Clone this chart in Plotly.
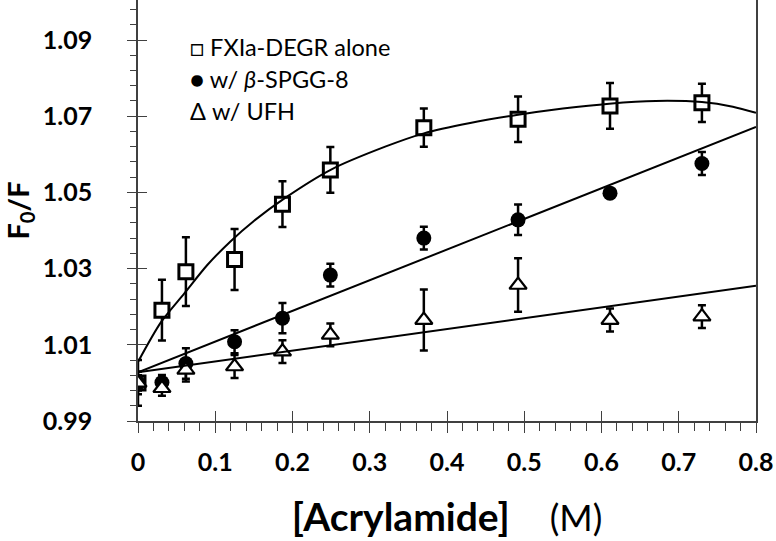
import plotly.graph_objects as go

# ---- data ----
conc = [0, 0.031, 0.062, 0.125, 0.187, 0.249, 0.370, 0.492, 0.611, 0.730]

alone_y = [1.000, 1.0191, 1.0292, 1.0324, 1.0469, 1.0559, 1.0670, 1.0692, 1.0727, 1.0735]
alone_err = [0.006, 0.008, 0.009, 0.008, 0.006, 0.006, 0.005, 0.006, 0.006, 0.005]

spgg_y = [1.000, 1.0001, 1.0051, 1.0108, 1.0170, 1.0283, 1.0380, 1.0428, 1.0498, 1.0576]
spgg_err = [0.002, 0.002, 0.004, 0.003, 0.004, 0.003, 0.003, 0.004, 0.001, 0.003]

ufh_y = [1.000, 0.9986, 1.0034, 1.0043, 1.0082, 1.0126, 1.0165, 1.0257, 1.0165, 1.0174]
ufh_err = [0.003, 0.002, 0.003, 0.003, 0.003, 0.003, 0.008, 0.007, 0.003, 0.003]

# fitted curves
alone_fit_x = [0, 0.03, 0.06, 0.09, 0.12, 0.15, 0.19, 0.25, 0.32, 0.37, 0.43, 0.49, 0.55, 0.61, 0.67, 0.73, 0.77, 0.8]
alone_fit_y = [1.0055, 1.0160, 1.0235, 1.0310, 1.0372, 1.0425, 1.0485, 1.0560, 1.0620, 1.0655, 1.0682, 1.0703, 1.0720, 1.0733, 1.0740, 1.0737, 1.0725, 1.0709]
line_x = [0, 0.8]
spgg_fit_y = [1.0028, 1.0672]
ufh_fit_y = [1.0028, 1.0255]

x_ticks = [0, 0.1, 0.2, 0.3, 0.4, 0.5, 0.6, 0.7, 0.8]
x_ticklabels = ["0", "0.1", "0.2", "0.3", "0.4", "0.5", "0.6", "0.7", "0.8"]
y_ticks = [0.99, 1.01, 1.03, 1.05, 1.07, 1.09]
y_ticklabels = ["0.99", "1.01", "1.03", "1.05", "1.07", "1.09"]

FONT = "Lato"
BLACK = "black"
AX = "#404040"

fig = go.Figure()

def err(arr):
    return dict(type="data", array=arr, visible=True, color=BLACK, thickness=2.5, width=4)

fig.add_trace(go.Scatter(x=conc, y=alone_y, mode="markers", error_y=err(alone_err),
                         marker=dict(symbol="square", size=14, color="white",
                                     line=dict(color=BLACK, width=3)),
                         showlegend=False))
fig.add_trace(go.Scatter(x=conc, y=spgg_y, mode="markers", error_y=err(spgg_err),
                         marker=dict(symbol="circle", size=15, color=BLACK,
                                     line=dict(color=BLACK, width=0)),
                         showlegend=False))
fig.add_trace(go.Scatter(x=conc, y=ufh_y, mode="markers", error_y=err(ufh_err),
                         marker=dict(symbol="triangle-up", size=15, color="white",
                                     line=dict(color=BLACK, width=2.2)),
                         showlegend=False))

fig.add_trace(go.Scatter(x=alone_fit_x, y=alone_fit_y, mode="lines",
                         line=dict(color=BLACK, width=2, shape="spline", smoothing=0.8),
                         showlegend=False))
fig.add_trace(go.Scatter(x=line_x, y=spgg_fit_y, mode="lines",
                         line=dict(color=BLACK, width=2), showlegend=False))
fig.add_trace(go.Scatter(x=line_x, y=ufh_fit_y, mode="lines",
                         line=dict(color=BLACK, width=2), showlegend=False))

# invisible trace to activate overlay axes used for the inner half of crossing ticks
fig.add_trace(go.Scatter(x=[0], y=[1.0], xaxis="x2", yaxis="y2", mode="markers",
                         marker=dict(opacity=0), showlegend=False, hoverinfo="skip"))

XR = [0, 0.8]
YR = [0.99, 1.1005]
NB = "\u00a0"

fig.update_layout(
    width=776, height=541,
    margin=dict(l=138, r=20, t=0, b=120, autoexpand=False),
    paper_bgcolor="white", plot_bgcolor="white",
    font=dict(family=FONT, color=BLACK),
    xaxis=dict(range=XR, tickvals=x_ticks, ticktext=x_ticklabels, automargin=False,
               showgrid=False, zeroline=False,
               showline=True, linecolor=AX, linewidth=1.5, mirror=True,
               ticks="outside", ticklen=10, tickwidth=1.2, tickcolor=AX,
               minor=dict(dtick=0.02, tick0=0, ticks="outside", ticklen=8,
                          tickwidth=1.2, tickcolor=AX, showgrid=False),
               tickfont=dict(family=FONT, size=25, color=BLACK, weight="bold"),
               ticklabelstandoff=8,
               title=dict(text="<b>[Acrylamide]</b>" + NB * 4
                               + "<span style='font-size:36px'>(M)</span>",
                          font=dict(family=FONT, size=39, color=BLACK),
                          standoff=29)),
    yaxis=dict(range=YR, tickvals=y_ticks, ticktext=y_ticklabels, automargin=False,
               showgrid=False, zeroline=False,
               showline=True, linecolor=AX, linewidth=1.5, mirror=True,
               ticks="outside", ticklen=9, tickwidth=1.2, tickcolor=AX,
               minor=dict(dtick=0.004, tick0=0.99, ticks="outside", ticklen=6,
                          tickwidth=1.2, tickcolor=AX, showgrid=False),
               tickfont=dict(family=FONT, size=25, color=BLACK, weight="bold"),
               ticklabelstandoff=30,
               title=dict(text="<b>F<sub>0</sub>/F</b>",
                          font=dict(family=FONT, size=29, color=BLACK),
                          standoff=20)),
    xaxis2=dict(range=XR, overlaying="x", matches="x", tickvals=x_ticks, automargin=False,
                showticklabels=False, showgrid=False, zeroline=False, showline=False,
                ticks="inside", ticklen=10, tickwidth=1.2, tickcolor=AX),
    yaxis2=dict(range=YR, overlaying="y", matches="y", tickvals=y_ticks, automargin=False,
                showticklabels=False, showgrid=False, zeroline=False, showline=False,
                ticks="inside", ticklen=9, tickwidth=1.2, tickcolor=AX),
)

leg_font = dict(family=FONT, size=23.5, color=BLACK)
fig.add_annotation(xref="paper", yref="paper", x=0.081, y=0.888, xanchor="left", yanchor="middle",
                   text="□ FXIa-DEGR alone", showarrow=False, font=leg_font)
fig.add_annotation(xref="paper", yref="paper", x=0.081, y=0.812, xanchor="left", yanchor="middle",
                   text="● w/ <i>β</i>-SPGG-8", showarrow=False, font=leg_font)
fig.add_annotation(xref="paper", yref="paper", x=0.081, y=0.736, xanchor="left", yanchor="middle",
                   text="Δ w/ UFH", showarrow=False, font=leg_font)

fig.write_html("out.html", config={"displayModeBar": False},
               post_script="document.body.style.margin='0';")
